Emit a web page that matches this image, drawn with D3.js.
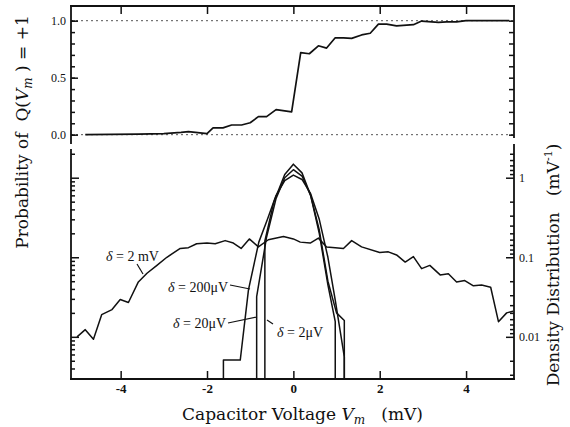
<!DOCTYPE html>
<html>
<head>
<meta charset="utf-8">
<script src="https://cdn.jsdelivr.net/npm/d3@7"></script>
<style>
  body { margin: 0; background: #fff; }
  text { font-family: "Liberation Serif", "DejaVu Serif", serif; fill: #111; white-space: pre; }
  .title { font-family: "DejaVu Serif", serif; }
</style>
</head>
<body>
<div id="chart"></div>
<script>
// top panel: probability that Q(Vm) = +1
var probV = [-4.82, -3.6, -3.0, -2.6, -2.43, -2.0, -1.86, -1.63, -1.43, -1.2, -1.0, -0.81, -0.62, -0.4, -0.04,
             0.17, 0.37, 0.58, 0.77, 0.97, 1.16, 1.35, 1.58, 1.78, 1.97, 2.16, 2.39, 2.78, 2.97, 3.36, 3.55, 3.78, 4.0, 5.0];
var probP = [0, 0.005, 0.01, 0.02, 0.026, 0.01, 0.06, 0.06, 0.085, 0.085, 0.105, 0.158, 0.158, 0.22, 0.2,
             0.72, 0.71, 0.78, 0.76, 0.85, 0.85, 0.845, 0.875, 0.89, 0.97, 0.97, 0.955, 0.965, 0.997, 0.985, 0.99, 0.99, 1.0, 1.0];

// bottom panel: density distributions (mV^-1), 0 = empty bin (drawn on the axis)
var wideV = [-5.01, -4.82, -4.63, -4.44, -4.2, -4.01, -3.82, -3.59, -3.39, -3.16, -2.93, -2.62, -2.43, -2.24, -2.0,
             -1.81, -1.58, -1.39, -1.21, -1.02, -0.81, -0.58, -0.23, 0, 0.16, 0.39, 0.58, 0.77, 0.97, 1.16, 1.35,
             1.58, 2.0, 2.2, 2.39, 2.59, 2.78, 2.97, 3.16, 3.4, 3.59, 3.78, 3.97, 4.17, 4.36, 4.57, 4.75, 4.94, 5.09];
var wideD = [0.01, 0.0123, 0.0093, 0.019, 0.022, 0.0295, 0.027, 0.049, 0.063, 0.079, 0.1, 0.129, 0.132, 0.148, 0.151,
             0.148, 0.162, 0.151, 0.129, 0.17, 0.135, 0.166, 0.182, 0.17, 0.155, 0.151, 0.174, 0.135, 0.132, 0.129, 0.162,
             0.135, 0.115, 0.117, 0.107, 0.087, 0.102, 0.072, 0.079, 0.06, 0.062, 0.049, 0.051, 0.0437, 0.0447, 0.042, 0.0155, 0.02, 0.021];

var d200V = [-1.62, -1.62, -1.23, -1.04, -0.8, -0.6, -0.4, -0.2, 0, 0.2, 0.4, 0.6, 0.8, 0.97, 1.18, 1.18];
var d200D = [0, 0.0051, 0.0051, 0.039, 0.155, 0.30, 0.6, 0.92, 1.08, 0.95, 0.63, 0.3, 0.1, 0.029, 0.0056, 0];

var d20V = [-0.85, -0.85, -0.62, -0.4, -0.2, 0, 0.2, 0.4, 0.6, 0.8, 1.0, 1.18, 1.18];
var d20D = [0, 0.032, 0.18, 0.55, 1.0, 1.26, 1.05, 0.6, 0.22, 0.05, 0.02, 0.016, 0];

var d2V = [-0.66, -0.66, -0.45, -0.2, 0, 0.2, 0.4, 0.6, 0.8, 0.97, 0.97];
var d2D = [0, 0.16, 0.5, 1.1, 1.48, 1.15, 0.6, 0.2, 0.045, 0.0155, 0];

var xTicks = [-4, -2, 0, 2, 4];
var probTicks = [0, 0.5, 1.0];
var densTicks = [0.01, 0.1, 1];

var W = 570, H = 427;
var left = 71, right = 514;
var top1 = 6, bot1 = 143;
var top2 = 150, bot2 = 379;

var svg = d3.select("#chart").append("svg")
    .attr("width", W).attr("height", H);

var x = d3.scaleLinear().domain([-5.15, 5.11]).range([left, right]);
var yP = d3.scaleLinear().domain([-0.073, 1.129]).range([bot1, top1]);
var yD = d3.scaleLog().domain([0.00295, 2.23]).range([bot2, top2]);

function zip(a, b) { return a.map(function (v, i) { return [v, b[i]]; }); }

// dotted reference lines
[0, 1].forEach(function (p) {
  svg.append("line")
    .attr("x1", left).attr("x2", right)
    .attr("y1", yP(p)).attr("y2", yP(p))
    .attr("stroke", "#555").attr("stroke-width", 1)
    .attr("stroke-dasharray", "2,3");
});

// frames
function seg(x1, y1, x2, y2) {
  svg.append("line").attr("x1", x1).attr("y1", y1).attr("x2", x2).attr("y2", y2)
    .attr("stroke", "#111").attr("stroke-width", 1.8).attr("stroke-linecap", "square");
}
seg(left, top1, right, top1);
seg(left, top1, left, bot1);
seg(right, top1, right, 137);
seg(left, bot2, right, bot2);
seg(left, top2, left, bot2);
seg(right, 145, right, bot2);

function styleAxis(g) {
  g.select(".domain").remove();
  g.selectAll(".tick line").attr("stroke", "#111").attr("stroke-width", 1.5);
  g.selectAll("text").style("font-family", '"Liberation Serif", serif').attr("fill", "#111");
}

// x ticks
svg.append("g").attr("transform", "translate(0," + top1 + ")")
  .call(d3.axisTop(x).tickValues(xTicks).tickSizeInner(-8).tickSizeOuter(0).tickFormat(""))
  .call(styleAxis);
svg.append("g").attr("transform", "translate(0," + bot2 + ")")
  .call(d3.axisBottom(x).tickValues(xTicks).tickSizeInner(-8).tickSizeOuter(0).tickPadding(5)
    .tickFormat(function (d) { return String(d); }))
  .call(styleAxis)
  .selectAll("text").style("font-size", "13px").style("font-weight", "bold");

// probability ticks
var probMinor = d3.range(0, 11).map(function (i) { return i / 10; });
svg.append("g").attr("transform", "translate(" + left + ",0)")
  .call(d3.axisLeft(yP).tickValues(probMinor).tickSizeInner(-4).tickSizeOuter(0).tickFormat(""))
  .call(styleAxis);
svg.append("g").attr("transform", "translate(" + left + ",0)")
  .call(d3.axisLeft(yP).tickValues(probTicks).tickSizeInner(-7).tickSizeOuter(0).tickPadding(5)
    .tickFormat(d3.format(".1f")))
  .call(styleAxis)
  .selectAll("text").style("font-size", "12px");
svg.append("g").attr("transform", "translate(" + right + ",0)")
  .call(d3.axisRight(yP).tickValues(probMinor).tickSizeInner(-5).tickSizeOuter(0).tickFormat(""))
  .call(styleAxis);

// density ticks
var leftMinor = [], rightMinor = [];
[-3, -2, -1, 0].forEach(function (k) {
  for (var m = 2; m <= 9; m++) {
    var a = m * Math.pow(10, k), b = Math.pow(10, k + 1) / m;
    if (a > yD.domain()[0] && a < yD.domain()[1]) leftMinor.push(a);
    if (b > yD.domain()[0] && b < yD.domain()[1]) rightMinor.push(b);
  }
});
svg.append("g").attr("transform", "translate(" + left + ",0)")
  .call(d3.axisLeft(yD).tickValues(leftMinor).tickSizeInner(-4).tickSizeOuter(0).tickFormat(""))
  .call(styleAxis);
svg.append("g").attr("transform", "translate(" + left + ",0)")
  .call(d3.axisLeft(yD).tickValues(densTicks).tickSizeInner(-8).tickSizeOuter(0).tickFormat(""))
  .call(styleAxis);
svg.append("g").attr("transform", "translate(" + right + ",0)")
  .call(d3.axisRight(yD).tickValues(rightMinor).tickSizeInner(-4).tickSizeOuter(0).tickFormat(""))
  .call(styleAxis);
svg.append("g").attr("transform", "translate(" + right + ",0)")
  .call(d3.axisRight(yD).tickValues(densTicks).tickSizeInner(-8).tickSizeOuter(0).tickPadding(5)
    .tickFormat(function (d) { return String(d); }))
  .call(styleAxis)
  .selectAll("text").style("font-size", "12px");

// curves
var lineP = d3.line().x(function (d) { return x(d[0]); }).y(function (d) { return yP(d[1]); });
var lineD = d3.line().x(function (d) { return x(d[0]); })
  .y(function (d) { return d[1] > 0 ? yD(d[1]) : yD.range()[0]; });

svg.append("path").datum(zip(probV, probP)).attr("d", lineP)
  .attr("fill", "none").attr("stroke", "#111").attr("stroke-width", 1.7).attr("stroke-linejoin", "round");

[zip(wideV, wideD), zip(d200V, d200D), zip(d20V, d20D), zip(d2V, d2D)].forEach(function (s) {
  svg.append("path").datum(s).attr("d", lineD)
    .attr("fill", "none").attr("stroke", "#111").attr("stroke-width", 1.5).attr("stroke-linejoin", "round");
});

// curve labels
function delta(tx, ty, rest, lx1, ly1, lx2, ly2) {
  var t = svg.append("text").attr("x", tx).attr("y", ty).style("font-size", "14px");
  t.append("tspan").style("font-style", "italic").text("δ");
  t.append("tspan").text(" = " + rest);
  svg.append("line").attr("x1", lx1).attr("y1", ly1).attr("x2", lx2).attr("y2", ly2)
    .attr("stroke", "#111").attr("stroke-width", 1.2);
}
delta(106, 261, "2 mV", 137, 264, 143, 274);
delta(168, 292, "200μV", 230, 285, 250, 289);
delta(173, 328, "20μV", 228, 323, 257, 317);
delta(277, 337, "2μV", 267, 320, 273, 324);

// axis titles
var yt = svg.append("text").attr("class", "title").attr("transform", "translate(28,132) rotate(-90)")
  .attr("text-anchor", "middle").style("font-size", "17px");
yt.append("tspan").text("Probability of  Q(");
yt.append("tspan").style("font-style", "italic").text("V");
yt.append("tspan").style("font-style", "italic").style("font-size", "12px").attr("dy", 4).text("m");
yt.append("tspan").attr("dy", -4).text(" ) = +1");

var rt = svg.append("text").attr("class", "title").attr("transform", "translate(559,265) rotate(-90)")
  .attr("text-anchor", "middle").style("font-size", "17px");
rt.append("tspan").text("Density Distribution   (mV");
rt.append("tspan").style("font-size", "11px").attr("dy", -7).text("-1");
rt.append("tspan").attr("dy", 7).text(")");

var xt = svg.append("text").attr("class", "title").attr("x", 182).attr("y", 420).style("font-size", "17px");
xt.append("tspan").text("Capacitor Voltage ");
xt.append("tspan").style("font-style", "italic").text("V");
xt.append("tspan").style("font-style", "italic").style("font-size", "12px").attr("dy", 4).text("m");
xt.append("tspan").attr("dy", -4).text("   (mV)");
</script>
</body>
</html>
